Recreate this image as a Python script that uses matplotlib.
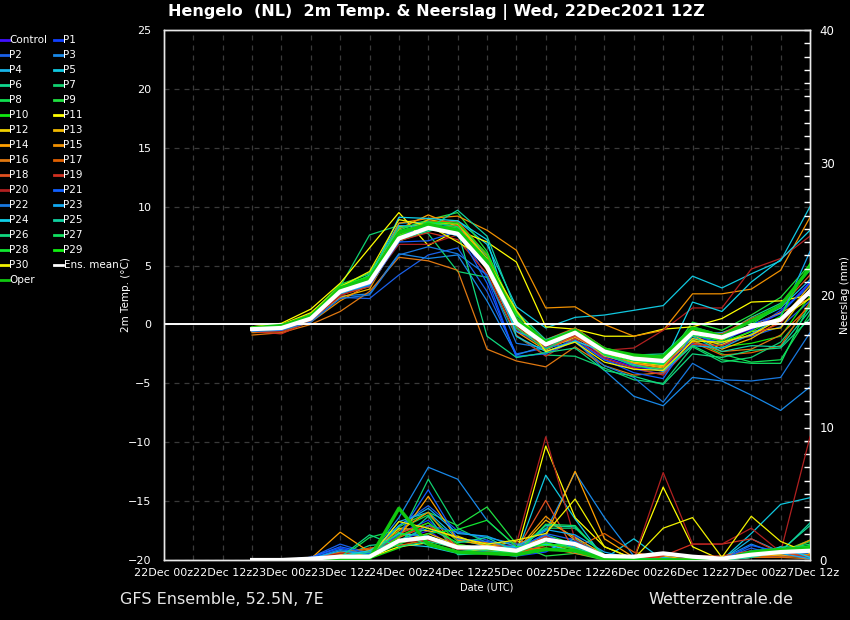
import matplotlib
matplotlib.use('Agg')
import matplotlib.pyplot as plt
from matplotlib.lines import Line2D
from matplotlib.ticker import MultipleLocator, FixedLocator

# ---------------- data ----------------
hours = [18, 24, 30, 36, 42, 48, 54, 60, 66, 72, 78, 84, 90, 96, 102, 108, 114, 120, 126, 132]
tick_hours = [0, 12, 24, 36, 48, 60, 72, 84, 96, 108, 120, 132]
tick_labels = ["22Dec 00z", "22Dec 12z", "23Dec 00z", "23Dec 12z", "24Dec 00z", "24Dec 12z",
               "25Dec 00z", "25Dec 12z", "26Dec 00z", "26Dec 12z", "27Dec 00z", "27Dec 12z"]

member_names = ["Control", "P1", "P2", "P3", "P4", "P5", "P6", "P7", "P8", "P9", "P10",
                "P11", "P12", "P13", "P14", "P15", "P16", "P17", "P18", "P19", "P20",
                "P21", "P22", "P23", "P24", "P25", "P26", "P27", "P28", "P29", "P30", "Oper"]
member_colors = ["#4010ff", "#1040ff", "#1a60e8", "#1888e8", "#18b4e8", "#10c8e0", "#10d890",
                 "#10d070", "#10e050", "#20e040", "#10e810", "#ffff00", "#f0d000", "#f0b800",
                 "#ffa000", "#f09000", "#e07810", "#e06000", "#e05020", "#d03020", "#b02020",
                 "#1060ff", "#1878e0", "#10a8f0", "#10d0e8", "#10d0a0", "#10d880", "#10e060",
                 "#10e830", "#10f010", "#f0f000", "#10c810"]

temp_values = [
    [-0.5, -0.4, 0.4, 2.6, 3.5, 7.4, 8.6, 8.0, 5.2, -0.5, -2.0, -1.0, -2.8, -3.6, -3.9, -1.0, -1.3, -0.4, 1.0, 3.6],
    [-0.4, -0.2, 0.6, 2.9, 3.9, 7.8, 8.8, 8.1, 4.0, -2.8, -2.4, -1.2, -3.0, -3.8, -4.2, -1.6, -1.8, -0.5, 1.2, 3.2],
    [-0.6, -0.5, 0.3, 2.3, 2.2, 4.2, 5.9, 6.5, 2.8, -2.5, -2.0, -0.6, -2.6, -3.5, -3.4, -1.2, -1.5, -1.0, -0.2, 2.0],
    [-0.5, -0.4, 0.5, 2.4, 2.6, 6.0, 5.6, 5.9, 2.0, -2.6, -1.8, -1.3, -3.9, -6.1, -6.9, -4.5, -4.8, -6.0, -7.3, -5.3],
    [-0.3, -0.2, 0.7, 2.9, 4.2, 8.6, 8.7, 7.9, 5.5, 0.3, -1.4, -0.5, -2.3, -3.0, -3.5, -0.8, -0.7, 0.2, 1.4, 3.8],
    [-0.5, -0.5, 0.3, 2.5, 3.3, 7.0, 8.5, 8.8, 6.8, 1.5, -0.3, 0.6, 0.8, 1.2, 1.6, 4.1, 3.1, 4.3, 5.4, 10.0],
    [-0.4, -0.3, 0.5, 2.7, 3.2, 7.1, 7.9, 8.6, 5.8, 0.8, -1.5, -0.3, -2.0, -2.6, -2.5, -0.2, -0.9, 0.6, 1.8, 4.6],
    [-0.6, -0.4, 0.6, 3.2, 7.6, 8.4, 7.7, 4.5, 4.0, -1.0, -2.6, -2.7, -3.7, -4.7, -5.0, -1.9, -3.2, -2.8, -1.5, 1.5],
    [-0.5, -0.3, 0.7, 3.3, 4.0, 7.6, 8.4, 8.0, 5.3, 0.2, -1.9, -0.8, -2.1, -2.6, -2.9, -1.3, -2.5, -3.2, -3.0, 0.9],
    [-0.3, -0.1, 0.9, 3.4, 4.3, 8.0, 8.9, 9.5, 6.2, 0.6, -1.6, -0.4, -2.5, -3.2, -3.3, 0.2, -0.5, 0.8, 2.3, 5.1],
    [-0.4, -0.2, 0.8, 3.1, 3.8, 7.9, 8.6, 8.4, 5.6, 0.4, -1.7, -0.6, -2.4, -2.8, -3.0, -0.5, -1.9, -1.6, -1.0, 2.4],
    [-0.2, 0.1, 1.3, 3.5, 6.5, 9.5, 6.7, 8.0, 7.0, 5.3, -0.2, -0.4, -1.0, -1.0, -0.4, -0.2, 0.5, 1.9, 2.0, 2.5],
    [-0.5, -0.2, 0.8, 2.8, 3.8, 8.3, 8.5, 8.6, 5.6, 0.0, -2.1, -1.1, -2.4, -3.2, -3.5, -1.2, -1.7, -0.6, -0.3, 3.0],
    [-0.4, -0.3, 0.5, 2.3, 3.0, 7.5, 8.9, 8.5, 5.4, 1.0, -1.8, -0.9, -2.7, -3.3, -3.7, -0.9, -2.1, -1.2, 0.3, 3.3],
    [-0.6, -0.5, 0.4, 2.6, 3.6, 8.1, 9.3, 8.3, 4.6, -0.6, -2.2, -0.9, -2.6, -3.3, -3.6, -0.5, -1.3, -0.1, 1.0, 2.2],
    [-0.7, -0.6, 0.2, 2.0, 3.4, 8.6, 9.0, 9.2, 8.0, 6.3, 1.4, 1.5, 0.0, -1.0, -0.5, 2.6, 2.6, 3.0, 4.6, 9.1],
    [-0.9, -0.7, 0.0, 1.1, 2.8, 5.7, 5.4, 4.6, -2.1, -3.1, -3.6, -1.9, -3.5, -4.3, -4.1, -1.4, -2.3, -2.1, -0.9, 1.6],
    [-0.5, -0.4, 0.6, 2.9, 3.7, 7.7, 8.7, 8.8, 5.9, 0.5, -1.3, -0.3, -2.0, -2.7, -3.0, -1.5, -2.6, -2.4, -1.8, 1.9],
    [-0.4, -0.3, 0.5, 2.6, 3.4, 7.2, 8.1, 8.4, 5.0, -0.2, -2.1, -1.0, -2.5, -3.4, -3.8, -0.6, -0.8, 0.5, 1.5, 4.2],
    [-0.6, -0.8, 0.3, 2.5, 3.2, 7.1, 7.8, 7.2, 4.3, -0.9, -2.7, -1.2, -2.9, -3.7, -4.3, -1.7, -1.8, -0.9, 0.1, 2.8],
    [-0.5, -0.6, 0.4, 2.4, 3.5, 6.8, 6.8, 7.6, 5.1, -0.4, -1.9, -0.9, -2.2, -2.0, -0.5, 1.4, 1.4, 4.7, 5.6, 7.5],
    [-0.5, -0.4, 0.6, 2.7, 3.3, 7.0, 7.1, 7.9, 3.5, -2.7, -2.5, -1.4, -3.0, -4.1, -4.6, -0.9, -1.6, 0.0, 0.9, 3.5],
    [-0.6, -0.5, 0.2, 2.2, 2.5, 5.9, 6.6, 6.0, 4.2, -1.6, -2.0, -1.5, -3.5, -4.5, -6.6, -3.3, -4.7, -4.8, -4.5, -0.7],
    [-0.4, -0.3, 0.6, 2.6, 3.4, 8.4, 8.3, 7.5, 4.8, -0.6, -1.5, -0.5, -2.6, -3.4, -4.0, -1.8, -2.0, -0.8, 0.6, 6.2],
    [-0.4, -0.3, 0.5, 2.8, 3.9, 9.1, 9.0, 8.8, 7.2, -1.0, -2.3, -1.4, -2.3, -2.9, -3.4, 1.9, 1.1, 3.6, 5.5, 8.0],
    [-0.5, -0.4, 0.4, 2.7, 3.6, 7.4, 8.2, 9.7, 7.5, 1.1, -1.3, -0.4, -2.2, -3.0, -3.3, -1.0, -2.3, -1.8, -1.9, 1.2],
    [-0.5, -0.3, 0.6, 3.0, 3.7, 7.2, 8.0, 8.0, -1.0, -2.8, -2.4, -2.0, -3.9, -4.4, -5.1, -2.5, -2.8, -2.2, -2.0, 0.5],
    [-0.4, -0.2, 0.7, 3.2, 4.4, 8.2, 8.7, 8.3, 5.1, -0.3, -2.1, -0.7, -2.5, -3.5, -3.8, -1.8, -3.0, -3.3, -3.3, 1.8],
    [-0.4, -0.3, 0.7, 3.0, 4.0, 7.8, 8.4, 8.2, 5.4, 0.3, -1.4, -0.6, -2.6, -3.1, -3.4, -0.9, -1.4, 0.0, 1.6, 4.8],
    [-0.3, -0.2, 0.8, 3.3, 4.1, 7.5, 8.7, 8.6, 6.0, 0.9, -1.5, -0.5, -2.2, -2.8, -2.6, -0.3, -1.5, -0.6, 0.7, 5.2],
    [-0.3, 0.0, 1.0, 3.2, 4.5, 8.9, 8.4, 7.0, 5.5, 1.2, -2.3, -1.5, -3.2, -3.8, -3.9, -1.4, -1.5, -0.9, 0.5, 2.2],
    [-0.3, -0.1, 0.7, 3.1, 3.9, 7.8, 8.5, 8.0, 5.4, 0.4, -1.5, -0.5, -2.1, -2.6, -2.8, -0.3, -1.0, 0.3, 1.6, 4.8],
]

precip_values = [
    [0, 0, 0.1, 0.3, 0.2, 1.5, 2.2, 0.8, 0.6, 0.5, 1.2, 0.9, 0.1, 0, 0.2, 0, 0, 0.3, 0.5, 0.6],
    [0, 0, 0.2, 0.9, 0.4, 2.0, 3.0, 1.0, 0.5, 0.3, 0.6, 1.8, 0.2, 0, 0.1, 0, 0, 0.4, 0.2, 0.8],
    [0, 0, 0.2, 1.2, 0.5, 2.6, 4.1, 2.2, 1.5, 0.8, 2.0, 1.5, 0.3, 0.1, 0, 0, 0.1, 0.9, 0.3, 0.3],
    [0, 0, 0.1, 0.6, 0.3, 3.2, 7.0, 6.1, 3.0, 1.0, 2.2, 6.6, 3.2, 0.3, 0.5, 0.2, 0.1, 1.2, 0.4, 0.1],
    [0, 0, 0.1, 0.4, 0.2, 2.9, 3.6, 1.6, 1.0, 0.6, 0.7, 1.6, 0.2, 0.1, 0.2, 0, 0, 1.6, 0.6, 0.4],
    [0, 0, 0.1, 0.2, 0.3, 1.2, 1.0, 0.5, 0.6, 0.4, 6.4, 3.1, 0.1, 1.6, 0, 0, 0, 2.0, 4.2, 4.7],
    [0, 0, 0.1, 0.2, 1.1, 1.3, 3.3, 0.4, 0.5, 0.3, 1.2, 1.0, 0.2, 0, 0.1, 0, 0, 0.3, 0.7, 2.6],
    [0, 0, 0, 0.1, 0.2, 1.6, 6.1, 2.4, 1.3, 1.0, 2.4, 2.4, 0.4, 0.2, 0, 0, 0, 0.2, 1.0, 1.0],
    [0, 0, 0.1, 0.1, 1.7, 2.3, 3.4, 1.4, 1.2, 0.7, 1.9, 1.2, 0.3, 0.2, 0.1, 0, 0, 0.3, 0.5, 1.4],
    [0, 0, 0, 0.1, 0.2, 2.5, 3.6, 2.6, 4.0, 1.2, 0.3, 0.5, 0, 0, 0, 0, 0, 0.4, 0.6, 1.5],
    [0, 0, 0, 0.1, 0.1, 0.9, 1.8, 1.0, 0.8, 0.6, 0.9, 0.7, 0.1, 0, 0.1, 0.1, 0, 0.5, 0.7, 0.8],
    [0, 0, 0.1, 0.2, 0.2, 1.0, 1.3, 0.6, 0.8, 0.5, 8.6, 3.2, 1.0, 0.1, 5.5, 1.0, 0, 0.2, 0.7, 0.4],
    [0, 0, 0, 0.2, 0.2, 2.4, 2.2, 1.8, 1.0, 1.4, 1.3, 0.6, 0.2, 0, 0.1, 0, 0, 0.5, 0.8, 0.9],
    [0, 0, 0.1, 0.5, 0.4, 1.4, 2.0, 1.1, 0.9, 0.6, 3.0, 1.7, 0.4, 0, 0.3, 0, 0, 0.3, 0.4, 0.8],
    [0, 0, 0.1, 2.1, 0.6, 1.7, 4.8, 1.5, 1.1, 0.9, 1.8, 6.7, 1.6, 0.2, 0.1, 0, 0, 0.5, 0.3, 0.6],
    [0, 0, 0.1, 0.4, 0.7, 2.2, 3.6, 0.8, 0.9, 0.7, 3.3, 1.5, 0.2, 0, 0, 0, 0, 0.6, 0.5, 1.5],
    [0, 0, 0.1, 0.6, 0.8, 1.7, 2.6, 1.6, 1.3, 0.8, 0.9, 0.5, 0.1, 0, 0, 0, 0, 0.2, 0.2, 0.1],
    [0, 0, 0.1, 0.5, 0.9, 1.1, 1.5, 1.0, 0.7, 0.5, 1.1, 0.9, 2.0, 0.6, 0.1, 0, 0, 0.3, 0.2, 0.4],
    [0, 0, 0.1, 0.3, 0.3, 2.0, 2.8, 0.9, 0.7, 0.7, 4.5, 0.6, 0.3, 0, 0.4, 0.3, 0.3, 0.7, 0.6, 0.3],
    [0, 0, 0, 0.2, 0.4, 1.8, 2.6, 1.2, 0.8, 0.6, 1.8, 1.1, 0.2, 0, 0.3, 1.2, 1.2, 1.6, 0.5, 0.2],
    [0, 0, 0.1, 0.5, 0.6, 1.3, 1.5, 0.8, 0.9, 1.2, 9.3, 1.5, 0.2, 0.1, 6.6, 1.2, 1.2, 2.4, 0.6, 9.3],
    [0, 0, 0.2, 1.0, 0.5, 1.9, 5.3, 1.6, 1.4, 0.9, 1.9, 0.9, 0.2, 0, 0.1, 0, 0, 1.1, 0.6, 0.5],
    [0, 0, 0.1, 0.8, 0.4, 1.4, 2.6, 2.1, 1.7, 1.2, 1.3, 1.4, 0.3, 0, 0.1, 0, 0, 0.7, 0.9, 0.2],
    [0, 0, 0.1, 0.7, 0.4, 2.6, 3.9, 2.0, 1.8, 1.0, 2.3, 1.9, 0.6, 0.1, 0, 0, 0, 0.5, 0.5, 0.1],
    [0, 0, 0.1, 0.3, 0.7, 2.0, 1.8, 1.0, 0.9, 1.0, 1.2, 0.6, 0.2, 0.1, 0, 0, 0, 0.2, 1.0, 0.2],
    [0, 0, 0, 0.3, 0.6, 1.5, 2.4, 1.3, 1.7, 0.6, 2.6, 2.5, 0.3, 0.1, 0, 0, 0, 0.2, 0.6, 2.8],
    [0, 0, 0, 0.2, 1.9, 1.0, 1.4, 0.9, 0.7, 0.5, 1.5, 0.9, 0.2, 0.1, 0, 0, 0, 0.4, 0.5, 0.9],
    [0, 0, 0, 0.2, 0.4, 2.1, 1.1, 0.6, 0.9, 0.4, 2.7, 2.6, 0.2, 0, 0, 0, 0, 0.3, 0.8, 1.2],
    [0, 0, 0, 0.1, 0.2, 1.2, 2.0, 2.3, 3.0, 1.0, 1.1, 1.2, 0.1, 0, 0.1, 0, 0, 0.3, 0.6, 1.1],
    [0, 0, 0, 0.1, 0.1, 1.8, 2.8, 1.2, 0.8, 0.6, 1.3, 0.8, 0.1, 0, 0, 0, 0, 0.5, 0.8, 1.0],
    [0, 0, 0.1, 0.3, 0.2, 2.9, 2.4, 1.7, 1.2, 1.5, 2.0, 4.6, 1.0, 0.1, 2.4, 3.2, 0.2, 3.3, 1.4, 0.5],
    [0, 0, 0, 0.1, 0.1, 3.9, 1.2, 0.6, 0.5, 0.4, 0.8, 0.7, 0.1, 0, 0, 0, 0, 0.6, 0.8, 0.9],
]

mean_temp = [-0.4, -0.3, 0.5, 2.8, 3.6, 7.3, 8.2, 7.7, 4.9, 0.1, -1.7, -0.7, -2.3, -2.9, -3.1,
             -0.7, -1.1, -0.2, 0.4, 2.8]
mean_precip = [0, 0, 0.1, 0.25, 0.25, 1.45, 1.7, 0.95, 0.95, 0.7, 1.55, 1.2, 0.3, 0.25, 0.5,
               0.25, 0.1, 0.4, 0.6, 0.7]

# ---------------- figure ----------------
W, H = 850, 620
AX_L, AX_R, AX_T, AX_B = 164, 810, 30, 560
fig = plt.figure(figsize=(W / 100, H / 100), dpi=100, facecolor='black')
ax = fig.add_axes([AX_L / W, 1 - AX_B / H, (AX_R - AX_L) / W, (AX_B - AX_T) / H])
ax.set_facecolor('black')
ax2 = ax.twinx()
ax2.patch.set_visible(False)

ax.set_xlim(0, 132)
ax.set_ylim(-20, 25)
ax2.set_ylim(0, 40)

grid_kw = dict(color='#3a3a3a', linewidth=0.9, linestyle=(0, (4, 4)))
ax.xaxis.set_major_locator(FixedLocator(tick_hours))
ax.xaxis.set_minor_locator(MultipleLocator(6))
ax.set_xticklabels(tick_labels)
ax.yaxis.set_major_locator(MultipleLocator(5))
ax.grid(True, which='both', axis='x', **grid_kw)
ax.grid(True, which='major', axis='y', **grid_kw)
ax.set_axisbelow(True)

for sp in list(ax.spines.values()) + list(ax2.spines.values()):
    sp.set_color('#e8e8e8')
    sp.set_linewidth(1.0)

ax.tick_params(axis='x', which='both', length=0, colors='white', labelsize=8, pad=6)
ax.tick_params(axis='y', which='both', length=0, colors='white', labelsize=8, pad=9)
ax2.yaxis.set_major_locator(MultipleLocator(10))
ax2.yaxis.set_minor_locator(MultipleLocator(1))
ax2.tick_params(axis='y', which='both', direction='in', length=4, width=1, colors='white',
                labelsize=8.5, pad=7)

# temperature members
for name, col, vals in zip(member_names, member_colors, temp_values):
    if name == "Oper":
        continue
    ax.plot(hours, vals, color=col, linewidth=0.9, zorder=3)

ax.axhline(0, color='white', linewidth=1.4, zorder=4)

# precipitation members
for name, col, vals in zip(member_names, member_colors, precip_values):
    lw = 2.5 if name == "Oper" else 0.9
    ax2.plot(hours, vals, color=col, linewidth=lw, zorder=3)
ax2.plot(hours, mean_precip, color='white', linewidth=3, zorder=5)

# operational run and ensemble mean (temperature) drawn on top
oper_idx = member_names.index("Oper")
ax.plot(hours, temp_values[oper_idx], color=member_colors[oper_idx], linewidth=2.5, zorder=5)
ax.plot(hours, mean_temp, color='white', linewidth=3, zorder=6)

ax.set_ylabel("2m Temp. (°C)", color='white', fontsize=7.5)
ax.yaxis.set_label_coords((131 - AX_L) / (AX_R - AX_L), 0.5)
ax2.set_ylabel("Neerslag (mm)", color='white', fontsize=7.5)
ax2.yaxis.set_label_coords((840 - AX_L) / (AX_R - AX_L), 0.5)
ax.set_xlabel("Date (UTC)", color='white', fontsize=7, labelpad=3)

# title and footer
fig.text(436 / W, 1 - 12 / H, "Hengelo  (NL)  2m Temp. & Neerslag | Wed, 22Dec2021 12Z",
         color='white', fontsize=11.5, fontweight='bold', ha='center', va='center')
fig.text(120 / W, 1 - 599 / H, "GFS Ensemble, 52.5N, 7E", color='#e6e6e6', fontsize=11.5,
         ha='left', va='center')
fig.text(793 / W, 1 - 599 / H, "Wetterzentrale.de", color='#e6e6e6', fontsize=11.5,
         ha='right', va='center')

# legend (two columns, row-major)
legend_names = member_names[:-1] + ["Ens. mean", "Oper"]
legend_colors = member_colors[:-1] + ["white", member_colors[-1]]
for k, (nm, col) in enumerate(zip(legend_names, legend_colors)):
    r, c = divmod(k, 2)
    y = 1 - (40 + 15 * r) / H
    x0 = 0 if c == 0 else 54
    fig.add_artist(Line2D([x0 / W, (x0 + 9) / W], [y, y], color=col, linewidth=2,
                          transform=fig.transFigure))
    fig.text((x0 + 9.5) / W, y, nm, color='white', fontsize=7.5, ha='left', va='center')

fig.savefig('out.png', dpi=100, facecolor='black')
